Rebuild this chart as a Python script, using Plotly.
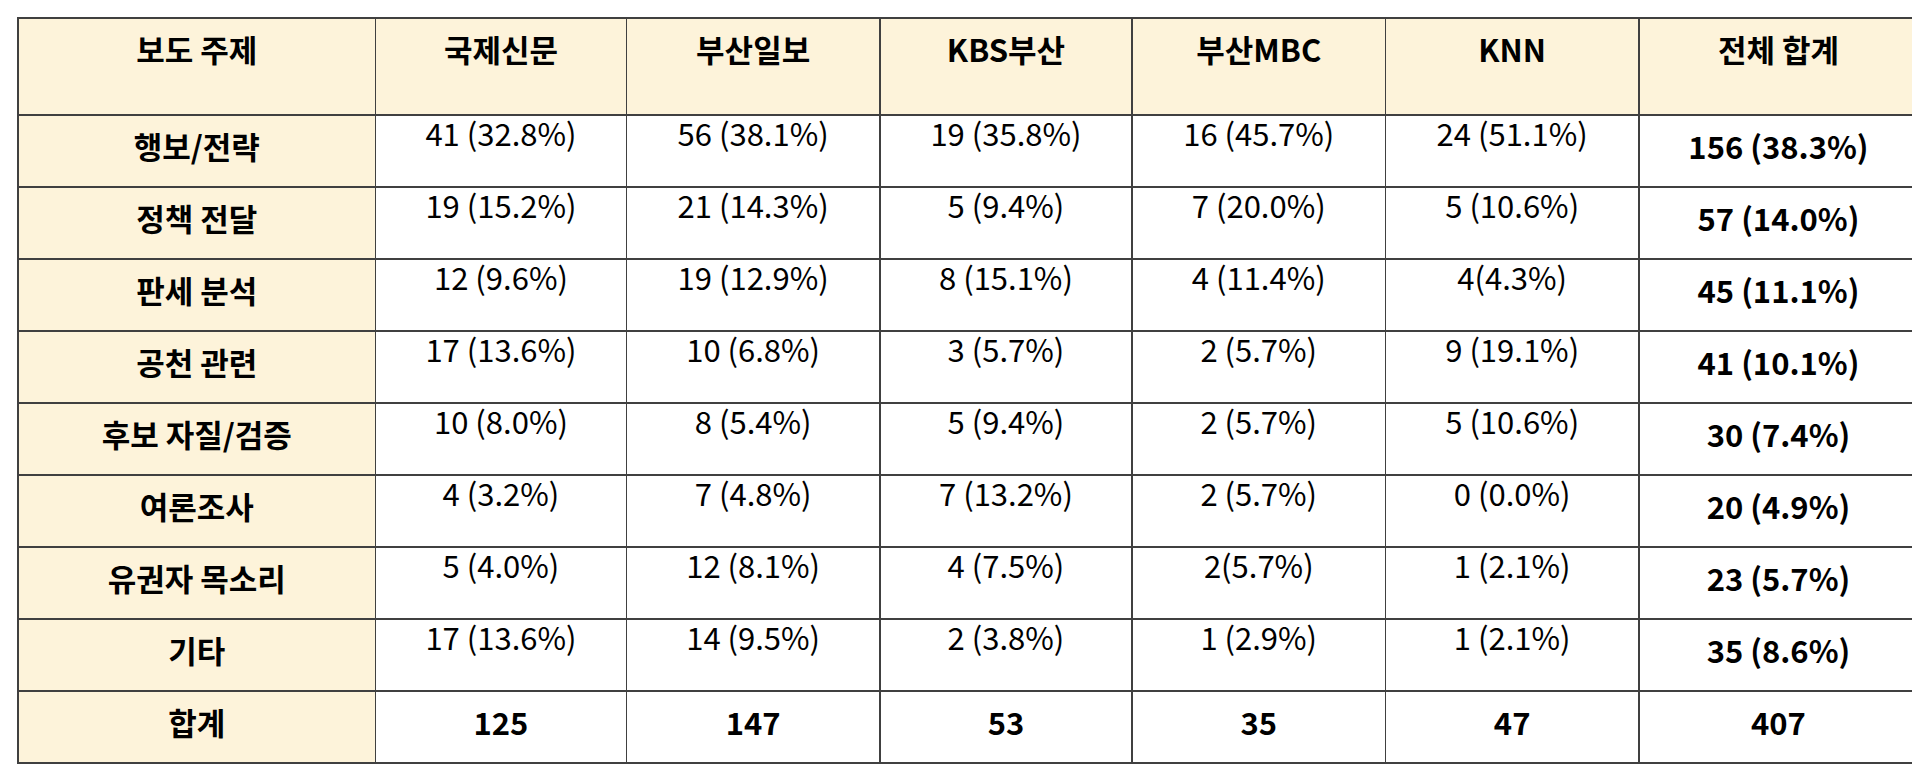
import plotly.graph_objects as go

header = ["보도 주제", "국제신문", "부산일보", "KBS부산", "부산MBC", "KNN", "전체 합계"]
topics = ["행보/전략", "정책 전달", "판세 분석", "공천 관련", "후보 자질/검증", "여론조사", "유권자 목소리", "기타", "합계"]
gukje = ["41 (32.8%)", "19 (15.2%)", "12 (9.6%)", "17 (13.6%)", "10 (8.0%)", "4 (3.2%)", "5 (4.0%)", "17 (13.6%)", "125"]
busan_ilbo = ["56 (38.1%)", "21 (14.3%)", "19 (12.9%)", "10 (6.8%)", "8 (5.4%)", "7 (4.8%)", "12 (8.1%)", "14 (9.5%)", "147"]
kbs = ["19 (35.8%)", "5 (9.4%)", "8 (15.1%)", "3 (5.7%)", "5 (9.4%)", "7 (13.2%)", "4 (7.5%)", "2 (3.8%)", "53"]
mbc = ["16 (45.7%)", "7 (20.0%)", "4 (11.4%)", "2 (5.7%)", "2 (5.7%)", "2 (5.7%)", "2(5.7%)", "1 (2.9%)", "35"]
knn = ["24 (51.1%)", "5 (10.6%)", "4(4.3%)", "9 (19.1%)", "5 (10.6%)", "0 (0.0%)", "1 (2.1%)", "1 (2.1%)", "47"]
total = ["156 (38.3%)", "57 (14.0%)", "45 (11.1%)", "41 (10.1%)", "30 (7.4%)", "20 (4.9%)", "23 (5.7%)", "35 (8.6%)", "407"]

def bold_last(col):
    return col[:-1] + ["<b>%s</b>" % col[-1]]

cols = [topics, gukje, busan_ilbo, kbs, mbc, knn, total]
values = [bold_last(c) for c in cols]
values[0] = ["<b>%s</b>" % v for v in topics]
values[-1] = ["<b>%s</b>" % v for v in total]

cream = "#FDF3DA"
fills = [[cream] * 9] + [["white"] * 9] * 6

fig = go.Figure(go.Table(
    columnwidth=[292, 205, 207, 206, 207, 207, 228],
    header=dict(values=["<b>%s</b>" % h for h in header], fill_color=cream,
                line_color="#404040", line_width=1.5, height=97,
                font=dict(family="Noto Sans CJK KR", size=31, color="black"),
                align="center"),
    cells=dict(values=values, fill_color=fills, line_color="#404040", line_width=1.5,
               height=72, font=dict(family="Noto Sans CJK KR", size=31, color="black"),
               align="center"),
))
fig.update_layout(width=1920, height=769, margin=dict(l=10, r=10, t=10, b=10),
                  paper_bgcolor="white")
fig.write_html("out.html")
